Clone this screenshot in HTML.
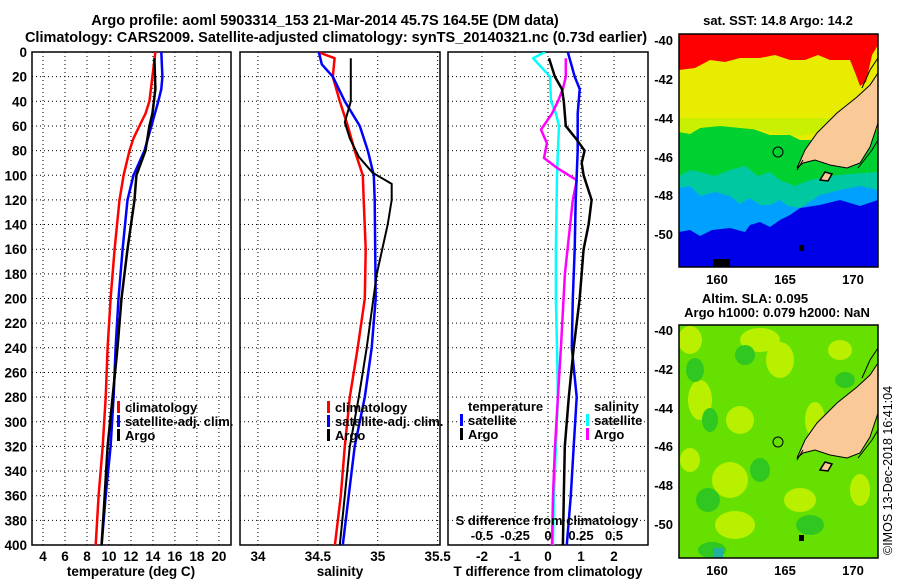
<!DOCTYPE html>
<html><head><meta charset="utf-8">
<style>
html,body{margin:0;padding:0;background:#fff;}
svg{display:block;font-family:"Liberation Sans",sans-serif;font-weight:bold;}
</style></head>
<body>
<svg id="fig" width="900" height="580" viewBox="0 0 900 580" xmlns="http://www.w3.org/2000/svg">
<defs>
<clipPath id="cp1"><rect x="32" y="52" width="199" height="493"/></clipPath>
<clipPath id="cp2"><rect x="240" y="52" width="200" height="493"/></clipPath>
<clipPath id="cp3"><rect x="448" y="52" width="200" height="493"/></clipPath>
<clipPath id="cpm1"><rect x="679" y="34" width="199" height="233"/></clipPath>
<clipPath id="cpm2"><rect x="679" y="325" width="199" height="233"/></clipPath>
</defs>
<text x="325" y="25" font-size="14.5" text-anchor="middle">Argo profile: aoml 5903314_153 21-Mar-2014 45.7S 164.5E (DM data)</text>
<text x="336" y="42" font-size="14.5" text-anchor="middle">Climatology: CARS2009. Satellite-adjusted climatology: synTS_20140321.nc (0.73d earlier)</text>
<g id="p1"></g>
<g id="p2"></g>
<g id="p3"></g>

<!-- top map -->
<g>
<text x="778" y="25" font-size="13" text-anchor="middle">sat. SST: 14.8 Argo: 14.2</text>
<g clip-path="url(#cpm1)">
<rect x="679" y="34" width="199" height="233" fill="#0000e8"/>
<path d="M679,34 H878 V200 L860,206 L840,200 L820,205 L800,208 L790,215 L780,220 L770,227 L760,222 L750,225 L745,232 L730,228 L712,230 L700,236 L690,230 L679,232 Z" fill="#00a0ff"/>
<path d="M679,34 H878 V190 L860,186 L840,190 L820,195 L800,208 L788,206 L780,200 L770,205 L760,205 L750,198 L740,204 L730,196 L715,192 L700,196 L690,186 L679,188 Z" fill="#00c8a0"/>
<path d="M679,34 H878 V172 L850,174 L830,176 L810,180 L795,186 L780,180 L770,172 L758,176 L745,166 L730,170 L715,176 L700,172 L690,170 L679,176 Z" fill="#00d030"/>
<path d="M679,34 H878 V130 L860,130 L840,135 L820,140 L800,140 L790,135 L770,135 L750,128 L730,125 L715,125 L700,128 L690,134 L679,132 Z" fill="#e8ec00"/>
<path d="M679,118 H840 L820,132 L800,136 L780,134 L760,130 L740,128 L720,126 L700,128 L690,134 L679,132 Z" fill="#c8f000"/>
<path d="M679,34 H878 V45 L872,55 L866,82 L860,86 L856,75 L850,60 L830,60 L818,55 L805,60 L790,60 L775,55 L760,58 L740,58 L725,62 L710,60 L695,68 L679,70 Z" fill="#ff0000"/>
<rect x="713" y="259" width="17" height="8" fill="#000"/>
<path d="M797,168 L805,150 L817,133 L837,113 L857,97 L870,85 L878,73 V123 L870,147 L860,163 L847,168 L830,165 L815,160 L803,163 Z" fill="#f9c998" stroke="#000" stroke-width="1"/>
<path d="M820,180 L825,172 L832,174 L828,181 Z" fill="#f9c998" stroke="#000" stroke-width="1.5"/>
<path d="M797,170 L803,160 M862,88 L870,70 L878,58 M858,168 L872,150 L878,140" fill="none" stroke="#000" stroke-width="1"/>
<rect x="799" y="245" width="5" height="6" fill="#000"/>
<circle cx="778" cy="152" r="5" fill="none" stroke="#000" stroke-width="1"/>
</g>
<rect x="679" y="34" width="199" height="233" fill="none" stroke="#000" stroke-width="1.5"/>
<g font-size="13" text-anchor="end">
<text x="673" y="45">-40</text><text x="673" y="84">-42</text><text x="673" y="123">-44</text><text x="673" y="162">-46</text><text x="673" y="200">-48</text><text x="673" y="239">-50</text></g>
<g font-size="13" text-anchor="middle">
<text x="717" y="284">160</text><text x="785" y="284">165</text><text x="853" y="284">170</text></g>
</g>

<!-- bottom map -->
<g>
<text x="755" y="303" font-size="13" text-anchor="middle">Altim. SLA: 0.095</text>
<text x="777" y="317" font-size="13" text-anchor="middle">Argo h1000: 0.079 h2000: NaN</text>
<g clip-path="url(#cpm2)">
<rect x="679" y="325" width="199" height="233" fill="#66e000"/>
<g fill="#b8f000">
<ellipse cx="690" cy="340" rx="12" ry="14"/><ellipse cx="760" cy="340" rx="20" ry="12"/><ellipse cx="780" cy="360" rx="14" ry="18"/>
<ellipse cx="700" cy="400" rx="12" ry="20"/><ellipse cx="740" cy="420" rx="14" ry="14"/><ellipse cx="815" cy="420" rx="10" ry="18"/>
<ellipse cx="730" cy="480" rx="18" ry="18"/><ellipse cx="840" cy="350" rx="12" ry="10"/><ellipse cx="735" cy="525" rx="20" ry="14"/>
<ellipse cx="800" cy="500" rx="16" ry="12"/><ellipse cx="860" cy="490" rx="10" ry="16"/><ellipse cx="690" cy="460" rx="10" ry="12"/>
</g>
<g fill="#30c820">
<ellipse cx="695" cy="370" rx="9" ry="12"/><ellipse cx="745" cy="355" rx="10" ry="10"/><ellipse cx="710" cy="420" rx="8" ry="12"/>
<ellipse cx="760" cy="470" rx="10" ry="12"/><ellipse cx="708" cy="500" rx="12" ry="12"/><ellipse cx="845" cy="380" rx="10" ry="8"/>
<ellipse cx="810" cy="525" rx="14" ry="10"/><ellipse cx="712" cy="550" rx="14" ry="8"/>
</g>
<rect x="713" y="548" width="10" height="10" fill="#20b0a0"/>
<path d="M797,458 L805,440 L817,423 L837,403 L857,387 L870,375 L878,363 V413 L870,437 L860,453 L847,458 L830,455 L815,450 L803,453 Z" fill="#f9c998" stroke="#000" stroke-width="1"/>
<path d="M820,470 L825,462 L832,464 L828,471 Z" fill="#f9c998" stroke="#000" stroke-width="1.5"/>
<path d="M797,460 L803,450 M862,378 L870,360 L878,348 M858,458 L872,440 L878,430" fill="none" stroke="#000" stroke-width="1"/>
<rect x="799" y="535" width="5" height="6" fill="#000"/>
<circle cx="778" cy="442" r="5" fill="none" stroke="#000" stroke-width="1"/>
</g>
<rect x="679" y="325" width="199" height="233" fill="none" stroke="#000" stroke-width="1.5"/>
<g font-size="13" text-anchor="end">
<text x="673" y="335">-40</text><text x="673" y="374">-42</text><text x="673" y="413">-44</text><text x="673" y="451">-46</text><text x="673" y="490">-48</text><text x="673" y="529">-50</text></g>
<g font-size="13" text-anchor="middle">
<text x="717" y="575">160</text><text x="785" y="575">165</text><text x="853" y="575">170</text></g>
</g>
<text transform="translate(892,555) rotate(-90)" font-size="12.5" font-weight="normal">©IMOS 13-Dec-2018 16:41:04</text>
</svg>
<script>
// ---- data ----
const tClimDepth = [0,20,40,50,60,70,80,100,120,160,200,240,280,320,360,400];
const tClimVal = [14.22,13.95,13.68,13.32,12.77,12.23,11.87,11.33,10.96,10.51,10.15,9.88,9.70,9.43,9.06,8.79];
const tSatDepth = [0,20,30,40,60,80,100,120,160,200,240,280,320,360,400];
const tSatVal = [14.76,14.86,14.76,14.49,13.86,13.23,12.23,11.69,11.24,10.87,10.60,10.42,10.15,9.70,9.33];
const tArgoDepth = [5,30,50,60,80,100,120,160,200,240,280,320,360,400];
const tArgoVal = [14.13,14.22,13.95,13.68,13.32,12.50,12.32,11.69,11.14,10.78,10.33,9.88,9.61,9.33];

const sClimDepth = [0,5,20,40,60,80,100,120,160,200,240,280,320,360,400];
const sClimVal = [34.50,34.64,34.625,34.683,34.75,34.808,34.875,34.883,34.90,34.892,34.833,34.767,34.725,34.692,34.642];
const sSatDepth = [0,10,20,40,60,80,100,120,200,240,280,320,360,400];
const sSatVal = [34.508,34.533,34.625,34.725,34.85,34.917,34.967,34.975,34.983,34.95,34.892,34.808,34.758,34.708];
const sArgoDepth = [5,40,57,70,85,98,107,120,140,180,240,280,320,360,400];
const sArgoVal = [34.775,34.775,34.725,34.767,34.842,34.958,35.117,35.117,35.083,34.992,34.908,34.842,34.767,34.725,34.683];

const dTSatDepth = [0,20,30,50,80,100,120,160,200,240,280,320,360,400];
const dTSatVal = [0.60,0.81,0.96,0.90,0.90,0.87,0.84,0.81,0.75,0.72,0.87,0.78,0.69,0.57];
const dTArgoDepth = [5,20,30,40,60,70,80,90,100,120,140,160,200,240,280,320,360,400];
const dTArgoVal = [0.03,0.21,0.42,0.48,0.54,0.84,1.11,1.02,1.08,1.32,1.23,1.08,0.96,0.78,0.63,0.51,0.48,0.45];
const dSSatDepth = [0,5,20,40,50,60,80,100,160,200,240,280,320,360,400];
const dSSatVal = [-0.023,-0.113,0.015,0.023,0.06,0.083,0.075,0.068,0.06,0.06,0.068,0.075,0.06,0.045,0.038];
const dSArgoDepth = [5,20,30,40,50,63,74,86,94,104,120,180,240,280,320,360,400];
const dSArgoVal = [0.135,0.135,0.113,0.075,0.03,-0.053,-0.008,-0.03,0.068,0.218,0.188,0.128,0.098,0.075,0.053,0.038,0.03];

const depthTicks = [0,20,40,60,80,100,120,140,160,180,200,220,240,260,280,300,320,340,360,380,400];
const tTicks = [4,6,8,10,12,14,16,18,20];
const sTicks = [34,34.5,35,35.5];
const sTickLabels = ['34','34.5','35','35.5'];
const dTTicks = [-2,-1,0,1,2];
const dSTicks = [-0.5,-0.25,0,0.25,0.5];
const dSTickLabels = ['-0.5','-0.25','0','0.25','0.5'];

// ---- helpers ----
const NS='http://www.w3.org/2000/svg';
function mk(tag,attrs,parent){const e=document.createElementNS(NS,tag);for(const k in attrs)e.setAttribute(k,attrs[k]);parent.appendChild(e);return e;}
const Y0=52,Y1=545;
function yScale(d){return Y0+(d/400)*(Y1-Y0);}
function xs(lo,hi,px0,px1){return v=>px0+(v-lo)/(hi-lo)*(px1-px0);}

function frame(g,x0,x1,xTicks,xLab,sc,showY){
  depthTicks.forEach(d=>{
    const y=yScale(d);
    const l=mk('line',{x1:x0,x2:x1,y1:y,y2:y,stroke:'#000','stroke-width':1,'stroke-dasharray':'1,3'},g);
    
    
    if(showY){const t=mk('text',{x:27,y:y+5,'font-size':13.5,'text-anchor':'end'},g);t.textContent=d;
      
      }
  });
  xTicks.forEach((v,i)=>{
    const x=sc(v);
    const l=mk('line',{x1:x,x2:x,y1:Y0,y2:Y1,stroke:'#000','stroke-width':1,'stroke-dasharray':'1,3'},g);
    
    
    const t=mk('text',{x:x,y:561,'font-size':13.5,'text-anchor':'middle'},g);t.textContent=xLab?xLab[i]:v;
    
    
  });
  const r=mk('rect',{x:x0,y:Y0,width:x1-x0,height:Y1-Y0,fill:'none',stroke:'#000','stroke-width':1.5},g);
  
  
}
function series(g,depths,vals,sc,color,w,name,clip){
  const pts=depths.map((d,i)=>sc(vals[i]).toFixed(1)+','+yScale(d).toFixed(1)).join(' ');
  const p=mk('polyline',{points:pts,fill:'none',stroke:color,'stroke-width':w,'stroke-linejoin':'round','clip-path':'url(#'+clip+')'},g);
  
  
}
function legend(g,x,y,color,label,name){
  mk('rect',{x:x,y:y-11,width:3,height:12,fill:color},g);
  const t=mk('text',{x:x+8,y:y,'font-size':13},g);t.textContent=label;
  
  
}
function title(g,x,txt,name){const t=mk('text',{x:x,y:576,'font-size':13.5,'text-anchor':'middle'},g);t.textContent=txt;
  
  }

// panel 1
const g1=document.getElementById('p1');
const sx1=xs(3,21.1,32,231);
frame(g1,32,231,tTicks,null,sx1,true);
series(g1,tClimDepth,tClimVal,sx1,'#ff0000',2.5,'temp-climatology-line','cp1');
series(g1,tSatDepth,tSatVal,sx1,'#0000ff',2.5,'temp-satellite-line','cp1');
series(g1,tArgoDepth,tArgoVal,sx1,'#000000',2.5,'temp-argo-line','cp1');
legend(g1,117,412,'#ff0000','climatology','legend-climatology');
legend(g1,117,426,'#0000ff','satellite-adj. clim.','legend-satellite-adj');
legend(g1,117,440,'#000000','Argo','legend-argo');
title(g1,131,'temperature (deg C)','x-axis-title-temperature');

// panel 2
const g2=document.getElementById('p2');
const sx2=xs(33.85,35.52,240,440);
frame(g2,240,440,sTicks,sTickLabels,sx2,false);
series(g2,sClimDepth,sClimVal,sx2,'#ff0000',2.5,'sal-climatology-line','cp2');
series(g2,sSatDepth,sSatVal,sx2,'#0000ff',2.5,'sal-satellite-line','cp2');
series(g2,sArgoDepth,sArgoVal,sx2,'#000000',2,'sal-argo-line','cp2');
legend(g2,327,412,'#ff0000','climatology','legend-climatology-2');
legend(g2,327,426,'#0000ff','satellite-adj. clim.','legend-satellite-adj-2');
legend(g2,327,440,'#000000','Argo','legend-argo-2');
title(g2,340,'salinity','x-axis-title-salinity');

// panel 3
const g3=document.getElementById('p3');
const sx3=xs(-3.03,3.03,448,648);
const sx3s=xs(-0.7575,0.7575,448,648);
frame(g3,448,648,dTTicks,null,sx3,false);
series(g3,dSSatDepth,dSSatVal,sx3s,'#00ffff',2.5,'sdiff-satellite-line','cp3');
series(g3,dSArgoDepth,dSArgoVal,sx3s,'#ff00ff',2.5,'sdiff-argo-line','cp3');
series(g3,dTSatDepth,dTSatVal,sx3,'#0000ff',2.5,'tdiff-satellite-line','cp3');
series(g3,dTArgoDepth,dTArgoVal,sx3,'#000000',2.5,'tdiff-argo-line','cp3');
(function(){const t=mk('text',{x:468,y:411,'font-size':13},g3);t.textContent='temperature';
 
 
 const t2=mk('text',{x:594,y:411,'font-size':13},g3);t2.textContent='salinity';
 
 })();
legend(g3,460,425,'#0000ff','satellite','legend-tdiff-satellite');
legend(g3,460,439,'#000000','Argo','legend-tdiff-argo');
legend(g3,586,425,'#00ffff','satellite','legend-sdiff-satellite');
legend(g3,586,439,'#ff00ff','Argo','legend-sdiff-argo');
(function(){const t=mk('text',{x:547,y:525,'font-size':13,'text-anchor':'middle'},g3);t.textContent='S difference from climatology';
 
 
 dSTicks.forEach((v,i)=>{const e=mk('text',{x:sx3s(v),y:540,'font-size':13,'text-anchor':'middle'},g3);e.textContent=dSTickLabels[i];
  
  });})();
title(g3,548,'T difference from climatology','x-axis-title-tdiff');
</script>
</body></html>
